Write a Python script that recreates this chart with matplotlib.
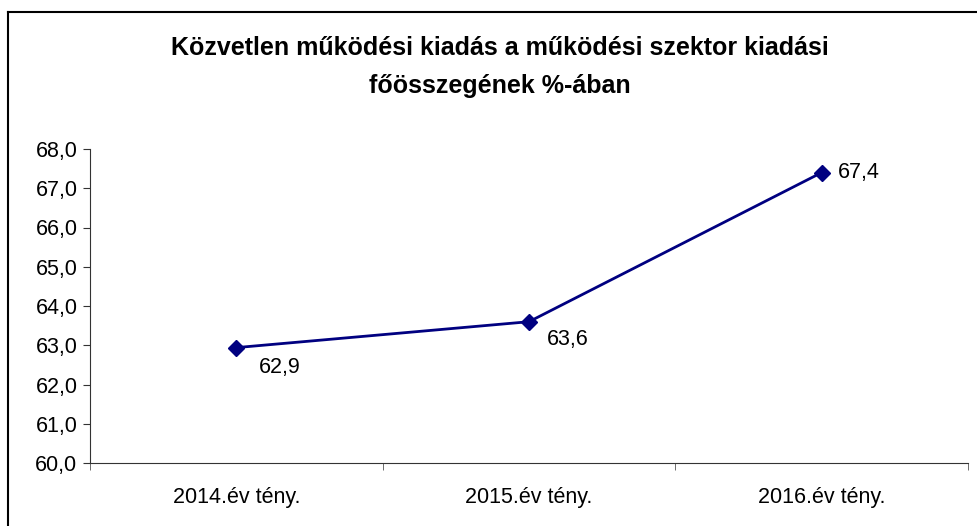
import matplotlib.pyplot as plt
from matplotlib.lines import Line2D

plt.rcParams['font.family'] = ['Liberation Sans', 'DejaVu Sans']

categories = ["2014.év tény.", "2015.év tény.", "2016.év tény."]
values = [62.94, 63.6, 67.4]
labels = ["62,9", "63,6", "67,4"]
# label offsets in points (dx, dy)
offsets = [(16, -14), (13, -13), (11.5, 0)]

fig = plt.figure(figsize=(9.77, 5.26), dpi=100)
W, H = 977, 526
ax = fig.add_axes([90 / W, 1 - 463 / H, (968 - 90) / W, (463 - 149) / H])

x = list(range(len(categories)))
ax.plot(x, values, color="#000080", lw=2, marker="D", ms=8, mec="#000080", mfc="#000080")
for xi, v, lab, (dx, dy) in zip(x, values, labels, offsets):
    ax.annotate(lab, (xi, v), xytext=(dx, dy), textcoords="offset points",
                ha="left", va="center", fontsize=15.5)

ax.set_xlim(-0.5, 2.5)
ax.set_ylim(60, 68)
ax.set_yticks(range(60, 69))
ax.set_yticklabels([f"{t},0" for t in range(60, 69)], fontsize=15.5)
ax.set_xticks(x)
ax.set_xticklabels(categories, fontsize=15.5)
ax.tick_params(axis="x", length=0, pad=17)
ax.set_xticks([-0.5, 0.5, 1.5, 2.5], minor=True)
ax.tick_params(axis="x", which="minor", length=5, direction="out", color="#555555")
ax.tick_params(axis="y", length=5, direction="out", pad=4, color="#333333")
for s in ["top", "right"]:
    ax.spines[s].set_visible(False)
ax.spines["left"].set_color("#333333")
ax.spines["bottom"].set_color("#333333")

fig.text(500 / W, 1 - 48 / H, "Közvetlen működési kiadás a működési szektor kiadási",
         ha="center", va="center", fontsize=18, fontweight="bold")
fig.text(500 / W, 1 - 86 / H, "főösszegének %-ában",
         ha="center", va="center", fontsize=18, fontweight="bold")

# chart area border (extends past the image on right and bottom)
fig.add_artist(Line2D([8 / W, 1], [1 - 12 / H, 1 - 12 / H], color="black", lw=1.5, transform=fig.transFigure))
fig.add_artist(Line2D([8 / W, 8 / W], [0, 1 - 12 / H], color="black", lw=1.5, transform=fig.transFigure))

fig.savefig("out.png", dpi=100)
